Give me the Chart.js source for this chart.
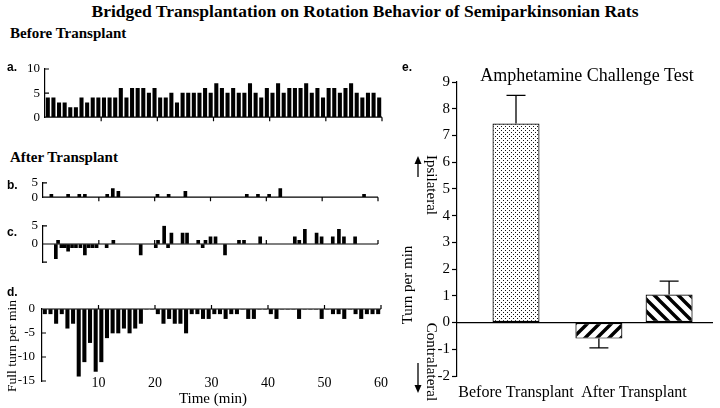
<!DOCTYPE html>
<html>
<head>
<meta charset="utf-8">
<script src="https://cdn.jsdelivr.net/npm/chart.js@4.4.1/dist/chart.umd.min.js"></script>
<style>
  body { margin: 0; background: #fff; }
  #fig { position: relative; width: 720px; height: 408px; overflow: hidden; font-family: 'Liberation Serif', serif; color: #000; }
  canvas { position: absolute; }
  .t { position: absolute; white-space: nowrap; line-height: 1; transform: translate(-50%, -50%); }
  .l { position: absolute; white-space: nowrap; line-height: 1; }
  .up { transform: translate(-50%, -50%) rotate(-90deg); }
  .down { transform: translate(-50%, -50%) rotate(90deg); }
  .tag { position: absolute; font: bold 12px 'Liberation Sans', sans-serif; line-height: 1; }
</style>
</head>
<body>
<div id="fig">
  <canvas id="pa" width="392" height="75" style="left:0;top:55px"></canvas>
  <canvas id="pb" width="392" height="40" style="left:0;top:170px"></canvas>
  <canvas id="pc" width="392" height="62" style="left:0;top:213px"></canvas>
  <canvas id="pd" width="392" height="118" style="left:0;top:290px"></canvas>
  <canvas id="pe" width="325" height="348" style="left:395px;top:60px"></canvas>

  <div class="t" style="left:365px;top:12px;font-weight:bold;font-size:17.5px">Bridged Transplantation on Rotation Behavior of Semiparkinsonian Rats</div>
  <div class="l" style="left:10px;top:26px;font-weight:bold;font-size:15px">Before Transplant</div>
  <div class="l" style="left:10px;top:150px;font-weight:bold;font-size:15px">After Transplant</div>

  <div class="tag" style="left:7px;top:286px">d.</div>
  <div class="tag" style="left:7px;top:61px">a.</div>
  <div class="tag" style="left:7px;top:179px">b.</div>
  <div class="tag" style="left:7px;top:226px">c.</div>
  <div class="tag" style="left:402px;top:61px">e.</div>

  <div class="t up" style="left:12px;top:346px;font-size:13.5px">Full turn per min</div>
  <div class="t" style="left:213px;top:398px;font-size:15px">Time (min)</div>

  <div class="t" style="left:587px;top:75px;font-size:18px">Amphetamine Challenge Test</div>
  <div class="t up" style="left:407px;top:285px;font-size:15px">Turn per min</div>
  <div class="t down" style="left:431px;top:185px;font-size:15px">Ipsilateral</div>
  <div class="t down" style="left:431px;top:362px;font-size:15px">Contralateral</div>
  <svg width="720" height="408" style="position:absolute;left:0;top:0">
    <path d="M418 177 V162" stroke="#000" stroke-width="1.3"/>
    <path d="M418 156 L414.5 164 L421.5 164 Z" fill="#000"/>
    <path d="M418 363 V387" stroke="#000" stroke-width="1.3"/>
    <path d="M418 393 L414.5 385 L421.5 385 Z" fill="#000"/>
  </svg>
</div>

<script>
// ---- data ----
// a. before transplant, full turns per minute (minutes 1..60)
const aValues = [4, 4, 3, 3, 2, 2, 4, 3, 4, 4, 4, 4, 4, 6, 4, 6, 6, 6, 5, 6,
                 4, 4, 5, 3, 5, 5, 5, 5, 6, 5, 7, 6, 5, 6, 5, 5, 7, 5, 4, 6,
                 5, 7, 5, 6, 6, 6, 7, 5, 6, 4, 6, 6, 5, 6, 7, 5, 4, 5, 5, 4];

// b. after transplant (sparse)
const bTimes  = [1.5, 4.5, 6.5, 7.5, 11.5, 12.5, 13.5, 20.5, 22.5, 25.5, 36.5, 38.5, 40.5, 42.5, 57.5];
const bValues = [1, 1, 1, 1, 1, 3, 2, 1, 1, 2, 1, 1, 1, 3, 1];

// c. after transplant (sparse)
const cTimes  = [2.3, 2.7, 3.3, 3.9, 4.5, 5.2, 5.9, 6.7, 7.5, 8.2, 8.9, 9.6, 11.4, 12.6, 17.5, 20.2, 20.6, 21.7, 22.4, 23.0,
                 25.0, 25.8, 27.8, 28.6, 29.1, 30.0, 30.9, 32.6, 35.1, 36.0, 38.9, 45.1, 45.9, 46.9, 49.0, 49.9, 51.9, 53.0, 53.9, 55.9];
const cValues = [-4, 1, -1, -1, -2, -1, -1, -1, -3, -1, -1, -1, -1, 1, -3, -1, 1, 5, -1, 3,
                 3, 3, 1, -1, 1, 2, 2, -3, 1, 1, 2, 2, 1, 4, 3, 2, 2, 4, 2, 2];

// d. after transplant (minutes 1..60)
const dValues = [-1, -1, -3, -1, -4, -3, -14, -11, -7, -13, -11, -6, -5, -5, -4, -5, -4, -3, 0, 0,
                 -1, -3, -2, -3, -3, -5, -1, -1, -2, -2, -1, -1, -2, -1, -1, 0, -2, -2, 0, 0,
                 -1, -2, 0, 0, 0, -2, 0, 0, 0, -2, 0, -1, -1, -2, 0, -1, -2, -1, -1, -1];

// e. amphetamine challenge test (mean, one-sided error)
const eGroups = ['Before Transplant', 'After Transplant'];
const eMeanA = [7.45, -0.6];
const eErrA  = [1.05, 0.35];
const eMeanB = [null, 1.05];
const eErrB  = [null, 0.5];

Chart.defaults.font.family = "'Liberation Serif', serif";
Chart.defaults.color = '#000';

const minuteSeries = vals => vals.map((v, i) => ({ x: i + 0.5, y: v }));
const timeSeries = (times, vals) => times.map((t, i) => ({ x: t, y: vals[i] }));

// zero line with 10-min tick marks, inward y ticks, optional time labels
const panelAxes = {
  id: 'panelAxes',
  afterDatasetsDraw(chart, args, opts) {
    const { ctx, chartArea, scales: { x, y } } = chart;
    const y0 = y.getPixelForValue(0);
    ctx.save();
    ctx.strokeStyle = '#000';
    ctx.lineWidth = 1.2;
    ctx.beginPath();
    ctx.moveTo(x.getPixelForValue(x.min), y0);
    ctx.lineTo(x.getPixelForValue(x.max), y0);
    for (let t = x.min + 10; t <= x.max; t += 10) {
      const px = x.getPixelForValue(t);
      ctx.moveTo(px, y0);
      ctx.lineTo(px, y0 + opts.dir * 4);
    }
    y.ticks.forEach(tk => {
      const py = y.getPixelForValue(tk.value);
      ctx.moveTo(chartArea.left, py);
      ctx.lineTo(chartArea.left + 4, py);
    });
    ctx.stroke();
    if (opts.timeLabels) {
      ctx.fillStyle = '#000';
      ctx.font = "14px 'Liberation Serif', serif";
      ctx.textAlign = 'center';
      ctx.textBaseline = 'middle';
      x.ticks.forEach(tk => {
        if (tk.value > x.min) ctx.fillText(String(tk.value), x.getPixelForValue(tk.value), chartArea.bottom + 2);
      });
    }
    ctx.restore();
  }
};

function panel(id, data, cfg) {
  return new Chart(document.getElementById(id), {
    type: 'bar',
    data: { datasets: [{ data, backgroundColor: '#000', borderWidth: 0, barThickness: cfg.bar || 3 }] },
    options: {
      responsive: false,
      animation: false,
      layout: { padding: { top: cfg.padTop, right: cfg.padRight, left: 0, bottom: 0 } },
      plugins: { legend: { display: false }, tooltip: { enabled: false }, panelAxes: { dir: cfg.dir, timeLabels: !!cfg.timeLabels } },
      scales: {
        x: {
          type: 'linear', min: 0, max: 60, offset: false,
          grid: { display: false }, border: { display: false },
          ticks: { display: false, stepSize: 10 },
          afterFit: s => { s.height = cfg.xHeight; }
        },
        y: {
          min: cfg.yMin, max: cfg.yMax,
          ticks: { stepSize: 5, font: { size: 13 }, padding: cfg.yPad, callback: cfg.yLabel || (v => v) },
          grid: { drawOnChartArea: false, drawTicks: false },
          border: { color: '#000', width: 1.2 },
          afterFit: s => { s.width = cfg.yWidth; }
        }
      }
    },
    plugins: [panelAxes]
  });
}

panel('pa', minuteSeries(aValues), { padTop: 14, padRight: 10, xHeight: 7, yWidth: 45, yMin: 0, yMax: 10, yPad: 5, dir: 1, bar: 3.4 });
panel('pb', timeSeries(bTimes, bValues), { padTop: 9, padRight: 14, xHeight: 7, yWidth: 43, yMin: 0, yMax: 5, yPad: 5, dir: 1 });
panel('pc', timeSeries(cTimes, cValues), { padTop: 10, padRight: 14, xHeight: 7, yWidth: 43, yMin: -5, yMax: 5, yPad: 5, dir: -1,
  yLabel: v => (v < 0 ? '' : v) });
panel('pd', minuteSeries(dValues), { padTop: 19, padRight: 11, xHeight: 27, yWidth: 42, yMin: -15, yMax: 0, yPad: 7, dir: -1, bar: 3.4,
  timeLabels: true });

// ---- e: patterned bars ----
const ectx = document.getElementById('pe').getContext('2d');

function tile(size, draw) {
  const c = document.createElement('canvas');
  c.width = c.height = size;
  const g = c.getContext('2d');
  g.fillStyle = '#fff';
  g.fillRect(0, 0, size, size);
  draw(g);
  return ectx.createPattern(c, 'repeat');
}
const dots = tile(4, g => { g.fillStyle = '#111'; g.fillRect(0, 0, 1, 1); g.fillRect(2, 2, 1, 1); });
const hatch = rising => tile(12, g => {
  g.strokeStyle = '#000';
  g.lineWidth = 3.4;
  g.beginPath();
  for (const o of [-12, 0, 12]) {
    if (rising) { g.moveTo(o - 2, 14); g.lineTo(o + 14, -2); }
    else { g.moveTo(o - 2, -2); g.lineTo(o + 14, 14); }
  }
  g.stroke();
});

const errorBars = {
  id: 'errorBars',
  beforeDatasetsDraw(chart) {
    const { ctx, chartArea, scales: { y } } = chart;
    const y0 = y.getPixelForValue(0);
    ctx.save();
    ctx.strokeStyle = '#000';
    ctx.lineWidth = 1.3;
    ctx.beginPath();
    ctx.moveTo(chartArea.left, y0);
    ctx.lineTo(chartArea.right + 20, y0);
    ctx.stroke();
    ctx.restore();
  },
  afterDatasetsDraw(chart) {
    const { ctx, scales: { y } } = chart;
    ctx.save();
    ctx.strokeStyle = '#000';
    ctx.lineWidth = 1.3;
    ctx.beginPath();
    chart.data.datasets.forEach((ds, di) => {
      chart.getDatasetMeta(di).data.forEach((bar, i) => {
        const v = ds.data[i], e = ds.errors[i];
        if (v == null || e == null) return;
        const end = y.getPixelForValue(v + Math.sign(v) * e);
        ctx.moveTo(bar.x, bar.y);
        ctx.lineTo(bar.x, end);
        ctx.moveTo(bar.x - 9.5, end);
        ctx.lineTo(bar.x + 9.5, end);
      });
    });
    ctx.stroke();
    ctx.restore();
  }
};

new Chart(ectx, {
  type: 'bar',
  data: {
    labels: eGroups,
    datasets: [
      { data: eMeanA, errors: eErrA, backgroundColor: [dots, hatch(true)], borderColor: '#000', borderWidth: 1.2, borderSkipped: false, skipNull: true },
      { data: eMeanB, errors: eErrB, backgroundColor: hatch(false), borderColor: '#000', borderWidth: 1.2, borderSkipped: false, skipNull: true }
    ]
  },
  options: {
    responsive: false,
    animation: false,
    layout: { padding: { top: 22, right: 27, left: 0, bottom: 0 } },
    datasets: { bar: { categoryPercentage: 1.19, barPercentage: 0.67, maxBarThickness: 47, skipNull: true } },
    plugins: { legend: { display: false }, tooltip: { enabled: false } },
    scales: {
      x: {
        grid: { display: false }, border: { display: false },
        ticks: { font: { size: 16 }, padding: -1, maxRotation: 0, autoSkip: false },
        afterFit: s => { s.height = 32; }
      },
      y: {
        min: -2, max: 9,
        ticks: { stepSize: 1, font: { size: 15 }, padding: 2 },
        grid: { drawOnChartArea: false, drawTicks: true, tickLength: 5, tickColor: '#000', tickWidth: 1.2 },
        border: { color: '#000', width: 1.2 },
        afterFit: s => { s.width = 62; }
      }
    }
  },
  plugins: [errorBars]
});
</script>
</body>
</html>
